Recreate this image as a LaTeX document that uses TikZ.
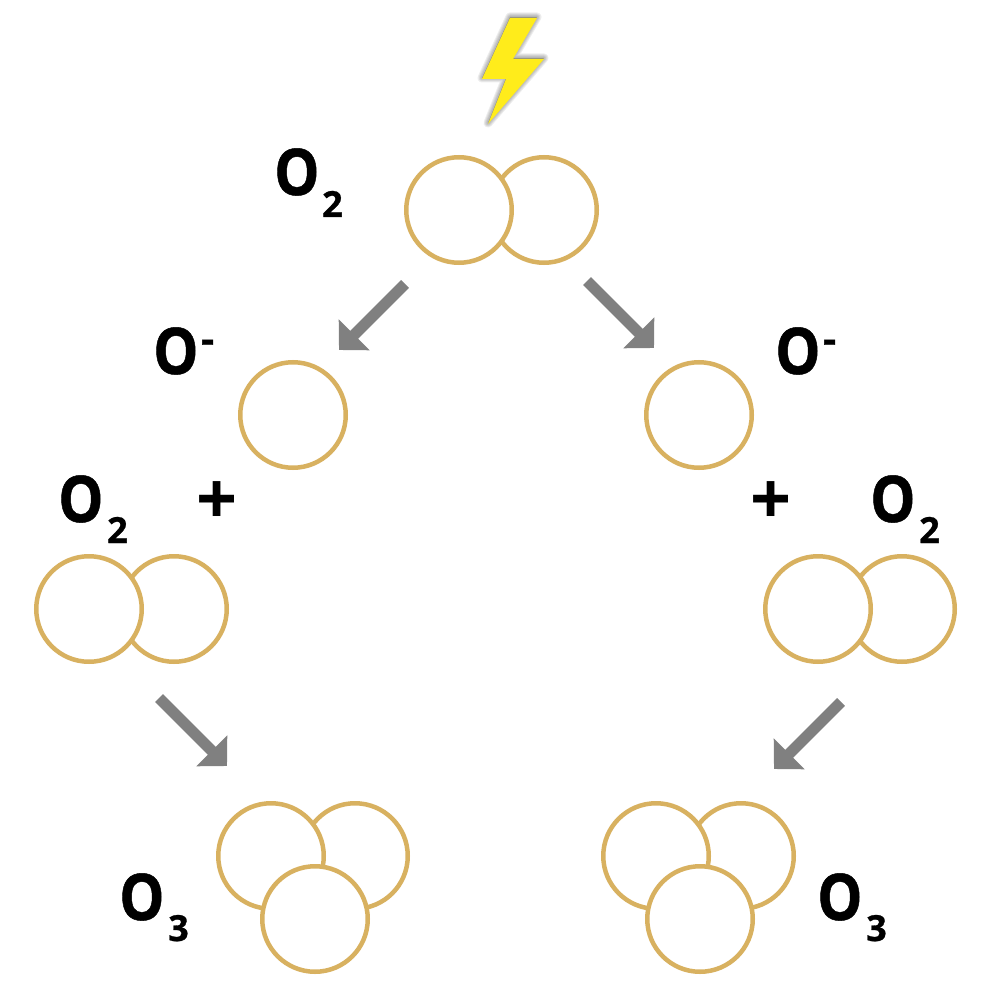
\documentclass[tikz,border=0pt]{standalone}
\usepackage{fontspec}
\setmainfont{Open Sans}[BoldFeatures={FakeBold=0.8}]
\newfontfamily\plusfont{Open Sans}
\usetikzlibrary{arrows.meta}
\definecolor{ring}{HTML}{D8B160}
\definecolor{flash}{HTML}{FFEC1B}
\definecolor{arr}{HTML}{808080}
\newcommand{\tallO}{\scalebox{1}[1.13]{O}}
\tikzset{
  atom/.style={circle,draw=ring,line width=4.5pt,fill=white,minimum size=105.5pt,inner sep=0pt,outer sep=0pt},
  lab/.style={font=\fontsize{57}{57}\bfseries\selectfont,text=black,inner sep=0pt,anchor=base west},
  plus/.style={font=\fontsize{72}{72}\plusfont\bfseries\selectfont,text=black,inner sep=0pt},
  sub/.style={font=\fontsize{36}{36}\bfseries\selectfont,text=black,inner sep=0pt,anchor=base west},
  sup/.style={font=\fontsize{40}{40}\bfseries\selectfont,text=black,inner sep=0pt,anchor=base west},
  garrow/.style={draw=arr,line width=11pt,-{Triangle[length=21.5pt,width=42.5pt,fill=arr]},shorten >=0pt}
}
\newcommand{\boltpath}{(510,18) -- (537,18) -- (513,59) -- (544,59) -- (488,124) -- (506,79) -- (482,79) -- cycle}
\begin{document}
\begin{tikzpicture}[x=1pt,y=-1pt]
\useasboundingbox (0,0) rectangle (1000,1000);
\fill[white] (0,0) rectangle (1000,1000);
% lightning with soft shadow
\foreach \w in {9,7,5,3}{
  \draw[black,opacity=0.07,line width=\w pt,line join=round,fill=black,fill opacity=0.07,shift={(0,-1)}] \boltpath;
}
\fill[flash] \boltpath;
% O2 top
\node[atom] (t2) at (544,210) {};
\node[atom] (t1) at (459,210) {};
\node[lab] (lt) at (274,195) {\tallO};
\node[sub] (lts) at (322,217) {2};
% O- atoms
\node[atom] (ml) at (293,415) {};
\node[atom] (mr) at (699,415) {};
\node[lab] (lml) at (153,374) {\tallO};
\node[sup] (lmls) at (201,353) {-};
\node[lab] (lmr) at (775,374) {\tallO};
\node[sup] (lmrs) at (823,353) {-};
% O2 left and right
\node[atom] (l2) at (174,609) {};
\node[atom] (l1) at (89,609) {};
\node[atom] (r2) at (902,609) {};
\node[atom] (r1) at (818,609) {};
\node[lab] (ll) at (58,522) {\tallO};
\node[sub] (lls) at (107,543) {2};
\node[lab] (lr) at (870,522) {\tallO};
\node[sub] (lrs) at (919,543) {2};
\node[plus] (pl) at (217,503) {+};
\node[plus] (pr) at (771,503) {+};
% O3 left
\node[atom] (a2) at (355,856) {};
\node[atom] (a1) at (271,856) {};
\node[atom] (a3) at (315,919) {};
\node[lab] (la) at (119,920) {\tallO};
\node[sub] (las) at (168,941) {3};
% O3 right
\node[atom] (b2) at (741,856) {};
\node[atom] (b1) at (656,856) {};
\node[atom] (b3) at (700,919) {};
\node[lab] (lb) at (817,920) {\tallO};
\node[sub] (lbs) at (866,941) {3};
% connectors
\coordinate (as) at (405,284); \coordinate (ae) at (339,350);
\coordinate (bs) at (587,281); \coordinate (be) at (654,348);
\coordinate (cs) at (159,698); \coordinate (ce) at (227,766);
\coordinate (ds) at (841,702); \coordinate (de) at (774,769);
\draw[garrow] (as) -- (ae);
\draw[garrow] (bs) -- (be);
\draw[garrow] (cs) -- (ce);
\draw[garrow] (ds) -- (de);
\end{tikzpicture}
\end{document}
